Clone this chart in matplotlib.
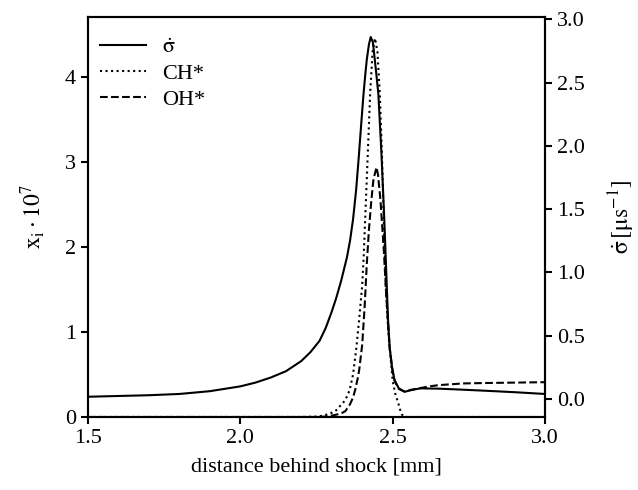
import matplotlib
matplotlib.use("Agg")
import matplotlib.pyplot as plt

plt.rcParams['font.family'] = ['Liberation Serif', 'DejaVu Serif']
plt.rcParams['mathtext.fontset'] = 'stix'
plt.rcParams['font.size'] = 16

# sigma-dot [1/us] (right axis)
x_sig = [1.50, 1.60, 1.70, 1.80, 1.90, 2.00, 2.05, 2.10, 2.15, 2.20, 2.23, 2.26,
         2.28, 2.30, 2.315, 2.331, 2.35, 2.36, 2.37, 2.38, 2.389, 2.397, 2.404,
         2.41, 2.415, 2.422, 2.428, 2.435, 2.445, 2.453, 2.463, 2.472, 2.48, 2.485,
         2.49, 2.498, 2.506, 2.52, 2.539, 2.56, 2.59, 2.65, 2.70, 2.80, 2.90, 3.00]
sig = [0.018, 0.024, 0.030, 0.040, 0.062, 0.10, 0.13, 0.17, 0.22, 0.30, 0.37, 0.46,
       0.56, 0.69, 0.80, 0.935, 1.12, 1.25, 1.42, 1.65, 1.92, 2.18, 2.40,
       2.56, 2.68, 2.80, 2.86, 2.82, 2.60, 2.41, 1.95, 1.45, 0.935, 0.62,
       0.41, 0.25, 0.15, 0.085, 0.057, 0.07, 0.084, 0.082, 0.077, 0.066, 0.054, 0.040]

# CH* mole fraction x 1e7 (left axis)
x_ch = [1.50, 2.20, 2.25, 2.27, 2.29, 2.30, 2.315, 2.33, 2.34, 2.35, 2.359, 2.37,
        2.381, 2.39, 2.40, 2.405, 2.41, 2.418, 2.426, 2.434, 2.442, 2.45, 2.458,
        2.465, 2.47, 2.478, 2.484, 2.49, 2.50, 2.508, 2.517, 2.525, 2.53, 2.54, 3.00]
ch = [0.0, 0.0, 0.005, 0.015, 0.035, 0.05, 0.08, 0.14, 0.18, 0.24, 0.32, 0.50,
      0.82, 1.15, 1.55, 1.90, 2.35, 3.07, 3.8, 4.30, 4.46, 4.30, 3.8,
      3.07, 2.40, 1.49, 1.10, 0.82, 0.43, 0.28, 0.18, 0.08, 0.03, 0.0, 0.0]

# OH* mole fraction x 1e7 (left axis)
x_oh = [1.50, 2.25, 2.28, 2.305, 2.33, 2.345, 2.36, 2.37, 2.377, 2.385, 2.39, 2.40,
        2.408, 2.415, 2.422, 2.43, 2.437, 2.447, 2.452, 2.46, 2.471, 2.478, 2.485,
        2.49, 2.498, 2.506, 2.52, 2.539, 2.56, 2.59, 2.62, 2.65, 2.73, 2.80, 2.90, 3.00]
oh = [0.0, 0.0, 0.005, 0.02, 0.04, 0.07, 0.15, 0.23, 0.32, 0.45, 0.55, 0.85,
      1.3, 1.8, 2.2, 2.55, 2.8, 2.94, 2.85, 2.55, 1.96, 1.49, 1.1,
      0.82, 0.58, 0.43, 0.33, 0.30, 0.32, 0.34, 0.36, 0.375, 0.395, 0.40, 0.405, 0.41]

fig = plt.figure(figsize=(6.38, 4.9), dpi=100)
ax = fig.add_axes([88/638, 1 - 417/490, (545-88)/638, (417-17)/490])
ax2 = ax.twinx()

l2, = ax.plot(x_ch, ch, color='black', linestyle=':', lw=1.5, label='CH*')
l3, = ax.plot(x_oh, oh, color='black', linestyle='--', lw=1.5, label='OH*')
l1, = ax2.plot(x_sig, sig, color='black', linestyle='-', lw=1.5)

ax.set_xlim(1.5, 3.0)
ax.set_ylim(0, 4.71)
ax2.set_ylim(-0.142, 3.018)
ax.set_xticks([1.5, 2.0, 2.5, 3.0])
ax.set_yticks([0, 1, 2, 3, 4])
ax2.set_yticks([0.0, 0.5, 1.0, 1.5, 2.0, 2.5, 3.0])
ax.set_xticklabels(['1.5', '2.0', '2.5', '3.0'])
ax2.set_yticklabels(['0.0', '0.5', '1.0', '1.5', '2.0', '2.5', '3.0'])

for a in (ax, ax2):
    for s in a.spines.values():
        s.set_linewidth(1.5)
    a.tick_params(direction='out', length=5, width=1.5, labelsize=16)

sig_sym = r'$\dot{\mathrm{\sigma}}$'
ax.set_xlabel('distance behind shock [mm]', fontsize=16, labelpad=7)
ax.set_ylabel(r'$\mathrm{x_i \cdot 10^7}$', fontsize=17, labelpad=13)
ax2.set_ylabel(r'$\dot{\mathrm{\sigma}}\,[\mathrm{\mu s^{-1}}]$', fontsize=17,
               labelpad=16)

ax.legend([l1, l2, l3], [sig_sym, 'CH*', 'OH*'], loc='upper left',
          frameon=False, fontsize=16, handlelength=2.1, handletextpad=0.7,
          labelspacing=0.25, bbox_to_anchor=(-0.018, 1.0))

fig.savefig('out.png', dpi=100)
